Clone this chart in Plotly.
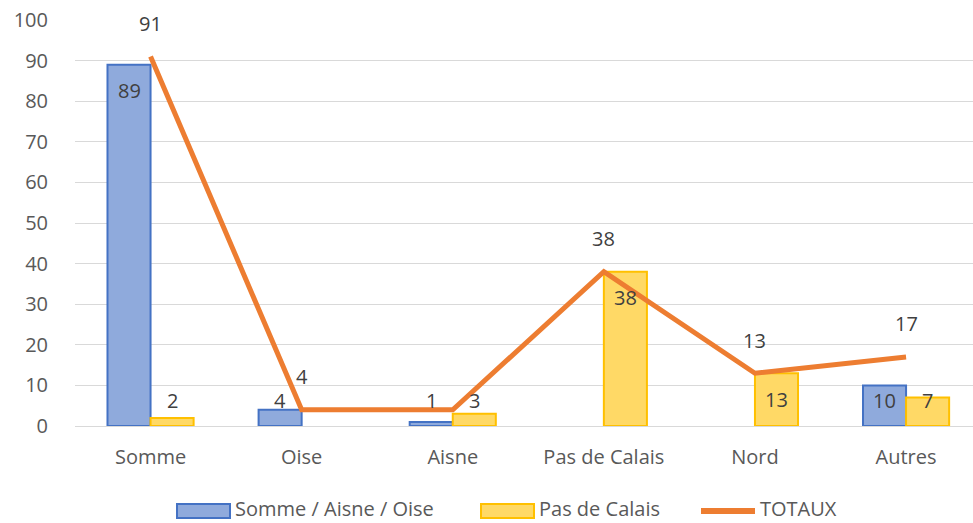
import plotly.graph_objects as go

categories = ["Somme", "Oise", "Aisne", "Pas de Calais", "Nord", "Autres"]
somme_aisne_oise = [89, 4, 1, 0, 0, 10]
pas_de_calais = [2, 0, 3, 38, 13, 7]
totaux = [91, 4, 4, 38, 13, 17]
totaux_labels = ["91", "4", "", "38", "13", "17"]

FONT = "Open Sans"
TXT = "#404040"
AXIS_TXT = "#595959"
BLUE, BLUE_EDGE = "#8FAADC", "#4472C4"
YELLOW, YELLOW_EDGE = "#FFD966", "#FFC000"
ORANGE = "#ED7D31"

# plot area in pixels (Excel-like layout)
L, R, T, B = 75, 0, 20, 97
W, H = 973, 523
PW, PH = W - L - R, H - T - B
PX_PER_UNIT = PH / 100
LABEL_OFF = 26 / PX_PER_UNIT  # excel "inside end" label offset


def nz(values):
    return [v if v else None for v in values]


fig = go.Figure()

fig.add_trace(go.Bar(
    name="Somme / Aisne / Oise", x=categories, y=nz(somme_aisne_oise),
    marker=dict(color=BLUE, line=dict(color=BLUE_EDGE, width=2)),
))
fig.add_trace(go.Bar(
    name="Pas de Calais", x=categories, y=nz(pas_de_calais),
    marker=dict(color=YELLOW, line=dict(color=YELLOW_EDGE, width=2)),
))
fig.add_trace(go.Scatter(
    name="TOTAUX", x=categories, y=totaux, mode="lines",
    line=dict(color=ORANGE, width=5), cliponaxis=False,
))

# bar labels
half_bar = 0.57 * PW / 5.943 / 4
for values, xs in ((somme_aisne_oise, -half_bar), (pas_de_calais, half_bar)):
    for cat, v in zip(categories, values):
        if v:
            fig.add_annotation(x=cat, y=max(v - LABEL_OFF, LABEL_OFF), xshift=xs,
                               text=str(v), showarrow=False,
                               font=dict(size=20, color=TXT, family=FONT))

# line labels
for cat, val, lab in zip(categories, totaux, totaux_labels):
    if lab:
        fig.add_annotation(x=cat, y=val, text=lab, showarrow=False, yshift=33,
                           font=dict(size=20, color=TXT, family=FONT))


# legend drawn like the excel one
def px_x(p):
    return (p - L) / PW


def px_y(p):
    return (H - B - p) / PH


ly = 511
legend_items = [
    ("rect", BLUE, BLUE_EDGE, 177, 230, "Somme / Aisne / Oise"),
    ("rect", YELLOW, YELLOW_EDGE, 481, 534, "Pas de Calais"),
    ("line", ORANGE, ORANGE, 701, 755, "TOTAUX"),
]
for kind, fill, edge, x0, x1, label in legend_items:
    if kind == "rect":
        fig.add_shape(type="rect", xref="paper", yref="paper",
                      x0=px_x(x0), x1=px_x(x1), y0=px_y(ly + 7), y1=px_y(ly - 7),
                      fillcolor=fill, line=dict(color=edge, width=2))
    else:
        fig.add_shape(type="line", xref="paper", yref="paper",
                      x0=px_x(x0), x1=px_x(x1), y0=px_y(ly), y1=px_y(ly),
                      line=dict(color=edge, width=6))
    fig.add_annotation(xref="paper", yref="paper", x=px_x(x1 + 3), y=px_y(ly - 2),
                       xanchor="left", yanchor="middle", text=label, showarrow=False,
                       font=dict(size=20, color=AXIS_TXT, family=FONT))

fig.update_layout(
    width=W, height=H,
    margin=dict(l=L, r=R, t=T, b=B),
    plot_bgcolor="white", paper_bgcolor="white",
    barmode="group", bargap=0.43, bargroupgap=0,
    showlegend=False,
    font=dict(family=FONT, size=20, color=AXIS_TXT),
    xaxis=dict(range=[-0.5, 5.443], showgrid=False, showline=False,
               ticks="outside", ticklen=13, tickcolor="rgba(0,0,0,0)",
               automargin=False, tickfont=dict(size=20, color=AXIS_TXT)),
    yaxis=dict(range=[0, 100], dtick=10, showgrid=True, gridcolor="#D9D9D9", gridwidth=1.3,
               zeroline=True, zerolinecolor="#D9D9D9", zerolinewidth=1.3, showline=False,
               ticks="outside", ticklen=22, tickcolor="rgba(0,0,0,0)", automargin=False,
               tickfont=dict(size=20, color=AXIS_TXT)),
)

# the page's default body margin would push the figure 8px down/right
fig.write_html("out.html", config={"displayModeBar": False},
               post_script="document.body.style.margin='0';")
